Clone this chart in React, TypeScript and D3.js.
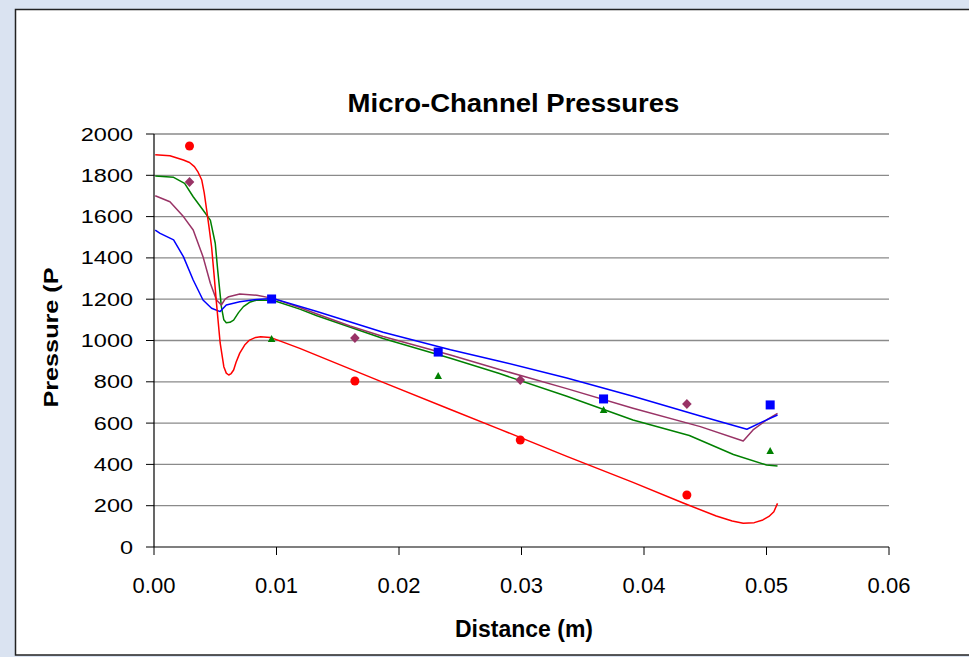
import React from 'react';
import * as d3 from 'd3';

// Simulated profiles (distance m, pressure)
const redLine: [number, number][] = [
  [0.0001, 1900], [0.0013, 1895], [0.0024, 1874], [0.0029, 1862], [0.0033, 1842],
  [0.0036, 1815], [0.0039, 1777], [0.0041, 1715], [0.0043, 1632], [0.0045, 1545],
  [0.0047, 1454], [0.0049, 1320], [0.0051, 1181], [0.0054, 988], [0.0057, 873],
  [0.0059, 842], [0.0061, 833], [0.0063, 840], [0.0065, 857], [0.0067, 895],
  [0.007, 939], [0.0074, 978], [0.0078, 1002], [0.0083, 1015], [0.0087, 1018],
  [0.0095, 1015], [0.0119, 962], [0.0133, 928], [0.0187, 797], [0.0242, 666],
  [0.0282, 571], [0.0337, 439], [0.0391, 313], [0.0432, 213], [0.0459, 150],
  [0.0472, 126], [0.0481, 115], [0.049, 118], [0.0497, 131], [0.0502, 148],
  [0.0506, 171], [0.0509, 211],
];
const blueLine: [number, number][] = [
  [0.0001, 1535], [0.0005, 1519], [0.0016, 1487], [0.0024, 1406], [0.0032, 1293],
  [0.004, 1196], [0.0047, 1156], [0.0054, 1140], [0.0059, 1172], [0.007, 1188],
  [0.0084, 1199], [0.0097, 1204], [0.0133, 1140], [0.0187, 1040], [0.0242, 955],
  [0.0282, 900], [0.0337, 818], [0.0391, 730], [0.0446, 634], [0.0484, 570],
  [0.0497, 607], [0.0509, 639],
];
const purpleLine: [number, number][] = [
  [0.0001, 1701], [0.0013, 1672], [0.0024, 1600], [0.0032, 1535], [0.004, 1406],
  [0.0046, 1277], [0.0051, 1196], [0.0055, 1172], [0.0058, 1200], [0.0061, 1212],
  [0.007, 1225], [0.0084, 1219], [0.0097, 1204], [0.0119, 1160], [0.0133, 1128],
  [0.016, 1070], [0.0187, 1019], [0.0242, 930], [0.0282, 860], [0.0337, 767],
  [0.0391, 672], [0.0446, 583], [0.0481, 513], [0.0489, 567], [0.05, 615],
  [0.0509, 647],
];
const greenLine: [number, number][] = [
  [0.0001, 1797], [0.0016, 1790], [0.0025, 1761], [0.0032, 1696], [0.004, 1632],
  [0.0046, 1583], [0.005, 1471], [0.0052, 1341], [0.0055, 1164], [0.0057, 1100],
  [0.0059, 1086], [0.0062, 1088], [0.0065, 1099], [0.0069, 1135], [0.0073, 1164],
  [0.0078, 1185], [0.0084, 1196], [0.0097, 1195], [0.0119, 1152], [0.0133, 1120],
  [0.0187, 1010], [0.0242, 914], [0.0282, 840], [0.0337, 730], [0.0391, 615],
  [0.0437, 540], [0.0473, 448], [0.05, 397], [0.0509, 392],
];

// Measured points
const redPoints: [number, number][] = [[0.0029, 1942], [0.0164, 804], [0.0299, 518], [0.0435, 252]];
const purplePoints: [number, number][] = [[0.0029, 1768], [0.0164, 1012], [0.0299, 809], [0.0435, 692]];
const bluePoints: [number, number][] = [[0.0096, 1201], [0.0232, 944], [0.0367, 717], [0.0503, 688]];
const greenPoints: [number, number][] = [[0.0096, 1007], [0.0232, 828], [0.0367, 663], [0.0503, 465]];

const xTicks = [0, 0.01, 0.02, 0.03, 0.04, 0.05, 0.06];
const yTicks = [0, 200, 400, 600, 800, 1000, 1200, 1400, 1600, 1800, 2000];

const FONT = "'Liberation Sans', Arial, sans-serif";

const App = () => {
  const x = d3.scaleLinear().domain([0, 0.06]).range([154, 889]);
  const y = d3.scaleLinear().domain([0, 2000]).range([547, 134]);

  const line = d3
    .line<[number, number]>()
    .x((d) => x(d[0]))
    .y((d) => y(d[1]));

  const series = [
    { data: greenLine, color: '#008000' },
    { data: purpleLine, color: '#993366' },
    { data: blueLine, color: '#0000ff' },
    { data: redLine, color: '#ff0000' },
  ];

  return (
    <svg
      width={969}
      height={657}
      style={{ position: 'absolute', left: 0, top: 0 }}
      fontFamily={FONT}
    >
      <rect x={0} y={0} width={969} height={657} fill="#dae3f1" />
      <rect x={15.5} y={9.5} width={980} height={645.5} fill="#ffffff" stroke="#222" strokeWidth={1.5} />

      {/* gridlines */}
      {yTicks.slice(1).map((t) => (
        <line key={t} x1={x(0)} x2={x(0.06)} y1={y(t)} y2={y(t)} stroke="#8a8a8a" strokeWidth={1.3} />
      ))}

      {/* axes */}
      <line x1={x(0)} x2={x(0)} y1={y(2000)} y2={y(0)} stroke="#000" strokeWidth={1.2} />
      <line x1={x(0)} x2={x(0.06)} y1={y(0)} y2={y(0)} stroke="#000" strokeWidth={1.2} />
      {yTicks.map((t) => (
        <g key={t}>
          <line x1={x(0) - 8} x2={x(0)} y1={y(t)} y2={y(t)} stroke="#000" strokeWidth={1} />
          <text
            transform={`translate(133,${y(t) + 6.5}) scale(1.27,1)`}
            textAnchor="end"
            fontSize={18.5}
            fill="#000"
          >
            {t}
          </text>
        </g>
      ))}
      {xTicks.map((t) => (
        <g key={t}>
          <line x1={x(t)} x2={x(t)} y1={y(0)} y2={y(0) + 8} stroke="#000" strokeWidth={1} />
          <text x={x(t)} y={593} textAnchor="middle" fontSize={22} fill="#000">
            {t.toFixed(2)}
          </text>
        </g>
      ))}

      {/* lines */}
      {series.map((s, i) => (
        <path key={i} d={line(s.data) || ''} fill="none" stroke={s.color} strokeWidth={1.5} strokeLinejoin="round" />
      ))}

      {/* markers */}
      {redPoints.map((d, i) => (
        <circle key={'r' + i} cx={x(d[0])} cy={y(d[1])} r={4.5} fill="#ff0000" />
      ))}
      {purplePoints.map((d, i) => {
        const cx = x(d[0]);
        const cy = y(d[1]);
        return (
          <polygon
            key={'p' + i}
            points={`${cx},${cy - 5} ${cx + 4.8},${cy} ${cx},${cy + 5} ${cx - 4.8},${cy}`}
            fill="#993366"
          />
        );
      })}
      {bluePoints.map((d, i) => (
        <rect key={'b' + i} x={x(d[0]) - 4.5} y={y(d[1]) - 4.5} width={9} height={9} fill="#0000ff" />
      ))}
      {greenPoints.map((d, i) => {
        const cx = x(d[0]);
        const cy = y(d[1]);
        return (
          <polygon
            key={'g' + i}
            points={`${cx},${cy - 4} ${cx + 3.8},${cy + 3} ${cx - 3.8},${cy + 3}`}
            fill="#008000"
          />
        );
      })}

      {/* titles */}
      <text
        transform="translate(513.5,111.5) scale(1.08,1)"
        textAnchor="middle"
        fontSize={25.5}
        fontWeight="bold"
        fill="#000"
      >
        Micro-Channel Pressures
      </text>
      <text x={524} y={636.5} textAnchor="middle" fontSize={23} fontWeight="bold" fill="#000">
        Distance (m)
      </text>
      <text
        transform="translate(58,337.5) rotate(-90) scale(1.2,1)"
        textAnchor="middle"
        fontSize={21}
        fontWeight="bold"
        fill="#000"
      >
        Pressure (P
      </text>
    </svg>
  );
};

export default App;
